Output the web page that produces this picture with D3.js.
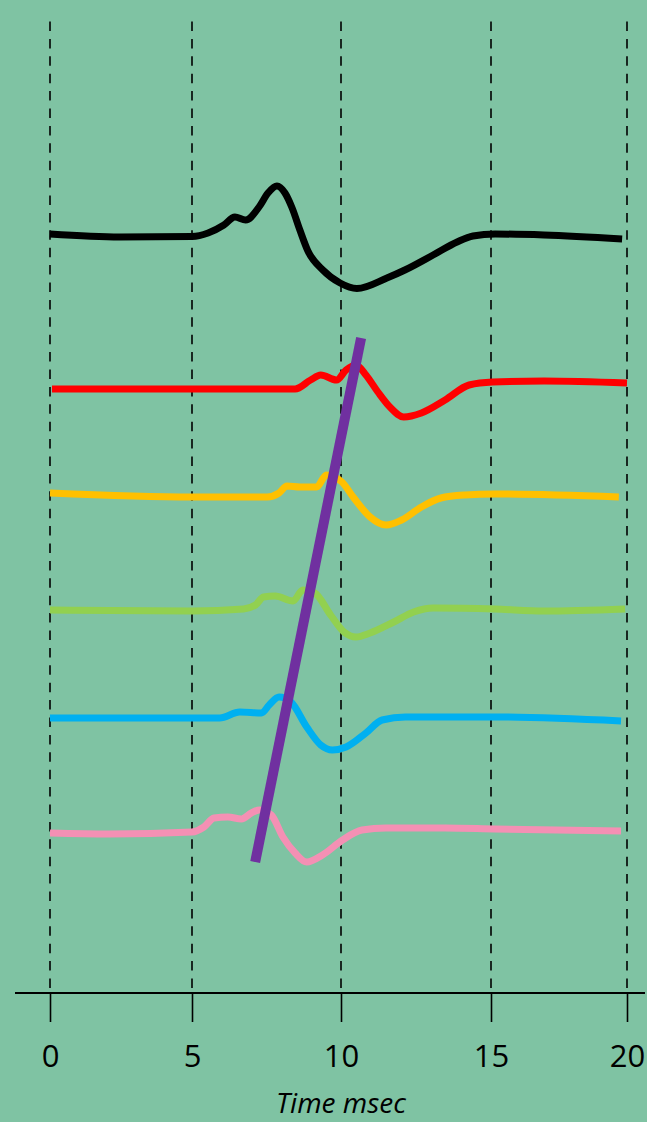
<!DOCTYPE html>
<html>
<head>
<meta charset="utf-8">
<script src="https://cdn.jsdelivr.net/npm/d3@7"></script>
<style>
  html, body { margin: 0; padding: 0; background: #7FC3A3; }
  svg { display: block; }
</style>
</head>
<body>
<script>
// ---- data (time in ms, amplitude in arbitrary units) ----
const tickValues = [0, 5, 10, 15, 20];
const tickLabels = ["0", "5", "10", "15", "20"];
const axisTitle = "Time msec";

const blackTrace = [[0,759],[2.46,756],[5,756.5],[5.54,760],[6.07,768],[6.44,776],[6.80,773],[7.25,786],[7.55,800],[7.85,807],[8.12,800],[8.36,785],[8.62,763],[8.89,742],[9.39,723],[9.97,710],[10.53,704.5],[11.53,715],[12.13,723],[13.07,738],[13.87,751],[14.4,757],[15.15,759],[16.95,758],[19.82,754]];
const redTrace = [[0.07,604],[5,604],[8.46,604],[8.98,613],[9.32,618],[9.85,613],[10.17,623],[10.5,628],[10.83,618],[11.23,601],[11.63,586],[12.09,576],[12.68,580],[13.47,593],[14.27,608],[15.06,611],[16.95,612],[20,610]];
const yellowTrace = [[0,500],[5,496],[7.52,496],[7.92,500],[8.19,507],[8.62,506],[9.18,506],[9.51,518],[10.03,511],[10.43,495],[10.97,476],[11.5,468],[12.02,473],[12.68,486],[13.33,495],[14.13,498],[15.13,499],[19.7,496]];
const greenTrace = [[0,383],[5,382],[6.73,384],[7.13,388],[7.4,396],[7.79,397],[8.39,392],[8.72,403],[9.12,400],[9.65,378],[10.1,361],[10.5,356],[10.97,360],[11.76,371],[12.42,381],[13.07,385],[15.13,384],[16.95,382],[19.93,384]];
const blueTrace = [[0,275],[5,275],[5.93,275],[6.6,281],[7.33,280],[7.59,288],[7.92,296],[8.32,291],[8.85,266],[9.32,248],[9.71,243],[10.17,246],[10.83,260],[11.37,273],[12.15,276],[15.13,276],[19.78,272]];
const pinkTrace = [[0,160],[2.08,159],[5,161],[5.4,166],[5.74,175],[6.2,176],[6.66,174],[6.99,180],[7.26,183],[7.66,178],[8.05,156],[8.46,140],[8.85,131],[9.38,138],[10.05,153],[10.7,163],[11.5,165],[13.47,165],[15.13,164],[19.78,162]];
const conductionLine = [[10.67,655],[7.12,131]];

const traceColors = ["#000000", "#FF0000", "#FFC000", "#92D050", "#00B0F0", "#F490B4"];
const traces = [blackTrace, redTrace, yellowTrace, greenTrace, blueTrace, pinkTrace];

// ---- layout ----
const W = 647, H = 1122;
const svg = d3.select("body").append("svg").attr("width", W).attr("height", H);
svg.append("rect").attr("width", W).attr("height", H).attr("fill", "#7FC3A3");

const x = d3.scaleLinear().domain([0, 5, 10, 15, 20]).range([50, 192, 341, 491, 627]);
const y = d3.scaleLinear().domain([0, 972]).range([993, 21]);

// dashed vertical gridlines
svg.append("g").selectAll("line").data(tickValues).join("line")
  .attr("x1", d => x(d)).attr("x2", d => x(d))
  .attr("y1", y(971.5)).attr("y2", y(0))
  .attr("stroke", "#000").attr("stroke-width", 1.6)
  .attr("stroke-dasharray", "9.5,7.9");

// axis
const axis = d3.axisBottom(x).tickValues(tickValues)
  .tickFormat((d, i) => tickLabels[i]).tickSize(29).tickPadding(23);
const gAxis = svg.append("g").attr("transform", `translate(0,${y(0)})`).call(axis);
gAxis.select(".domain").remove();
gAxis.selectAll(".tick line").attr("stroke", "#000").attr("stroke-width", 1.6);
gAxis.selectAll(".tick text").attr("fill", "#000")
  .style("font-family", "'Open Sans', sans-serif").style("font-size", "31px");
svg.append("line").attr("x1", 15).attr("x2", 645).attr("y1", y(0)).attr("y2", y(0))
  .attr("stroke", "#000").attr("stroke-width", 2);

svg.append("text").attr("x", x(10)).attr("y", 1113).attr("text-anchor", "middle")
  .style("font-family", "'Open Sans', sans-serif").style("font-size", "28px")
  .style("font-style", "italic").attr("fill", "#000").text(axisTitle);

// traces
const line = d3.line().x(d => x(d[0])).y(d => y(d[1])).curve(d3.curveMonotoneX);
svg.append("g").selectAll("path").data(traces).join("path")
  .attr("d", line).attr("fill", "none")
  .attr("stroke", (d, i) => traceColors[i])
  .attr("stroke-width", 7).attr("stroke-linejoin", "round").attr("stroke-linecap", "butt");

// conduction line
svg.append("path").attr("d", d3.line().x(d => x(d[0])).y(d => y(d[1]))(conductionLine))
  .attr("stroke", "#7030A0").attr("stroke-width", 10).attr("fill", "none");
</script>
</body>
</html>
